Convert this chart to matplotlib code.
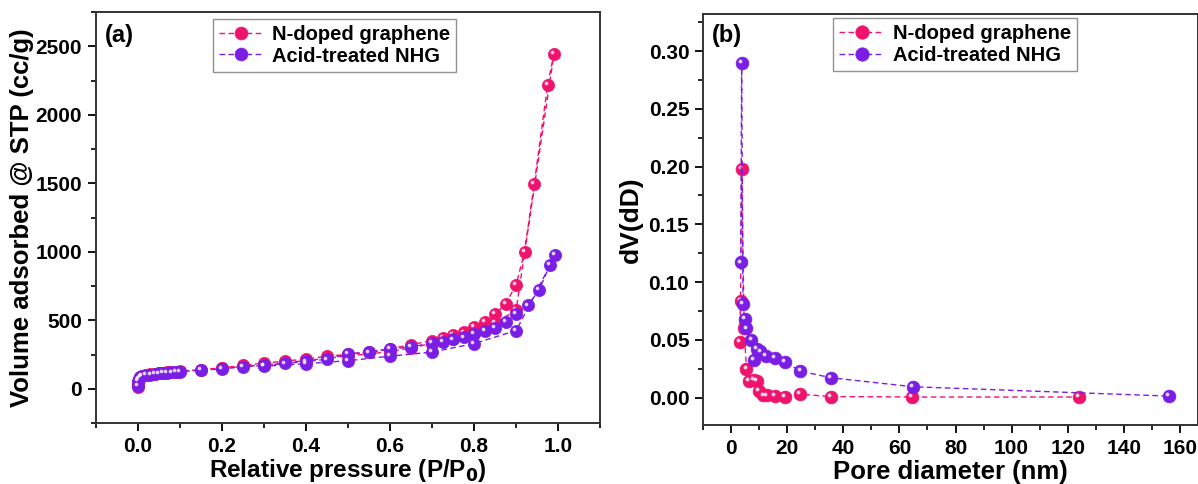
import numpy as np
import matplotlib
matplotlib.use("Agg")
from matplotlib import pyplot as plt
from matplotlib.ticker import MultipleLocator
from matplotlib.transforms import offset_copy

plt.rcParams['font.family'] = ['Liberation Sans', 'DejaVu Sans']
plt.rcParams['font.weight'] = 'bold'

pink = "#f0136e"
purple = "#7a1ee6"

# (a) isotherm, adsorption + desorption branches
ndg_p = [0.0, 0.001, 0.003, 0.006, 0.01, 0.02, 0.03, 0.04, 0.05, 0.06, 0.07, 0.08, 0.09, 0.1,
         0.15, 0.2, 0.25, 0.3, 0.35, 0.4, 0.45, 0.5, 0.55, 0.6, 0.65, 0.7, 0.725, 0.75,
         0.775, 0.8, 0.825, 0.85, 0.875, 0.9, 0.92, 0.943, 0.975, 0.99,
         0.9, 0.85, 0.8, 0.75, 0.7, 0.65, 0.6, 0.5, 0.4, 0.3, 0.2]
ndg_v = [10, 45, 70, 85, 95, 102, 107, 111, 115, 118, 120, 122, 125, 128,
         140, 152, 172, 187, 202, 217, 237, 252, 272, 292, 322, 352, 372, 392,
         412, 450, 490, 545, 620, 760, 1000, 1495, 2220, 2445,
         575, 480, 410, 362, 330, 300, 270, 240, 205, 175, 150]

nhg_p = [0.0, 0.001, 0.003, 0.006, 0.01, 0.02, 0.03, 0.04, 0.05, 0.06, 0.07, 0.08, 0.09, 0.1,
         0.15, 0.2, 0.25, 0.3, 0.35, 0.4, 0.45, 0.5, 0.55, 0.6, 0.65, 0.7, 0.725, 0.75,
         0.775, 0.8, 0.825, 0.85, 0.875, 0.9, 0.928, 0.955, 0.98, 0.993,
         0.9, 0.8, 0.7, 0.6, 0.5, 0.4, 0.3]
nhg_v = [20, 55, 75, 88, 95, 100, 104, 108, 112, 115, 118, 120, 122, 125,
         135, 145, 160, 170, 185, 200, 215, 255, 265, 290, 305, 335, 345, 360,
         375, 400, 420, 445, 487, 548, 608, 724, 902, 975,
         425, 330, 268, 238, 205, 183, 165]

# (b) pore size distribution
ndg_d = [3.0, 3.3, 3.7, 4.6, 5.4, 6.4, 8.1, 9.1, 10.0, 11.5, 12.8, 15.5, 19.0, 24.4, 35.5, 64.5, 124.0]
ndg_dv = [0.048, 0.084, 0.198, 0.060, 0.025, 0.0145, 0.0155, 0.0145, 0.0058, 0.002, 0.002,
          0.0014, 0.001, 0.003, 0.001, 0.0006, 0.0006]
nhg_d = [3.4, 3.7, 4.2, 5.0, 5.4, 7.2, 8.1, 9.1, 10.4, 12.5, 15.5, 19.1, 24.7, 35.5, 64.7, 156.0]
nhg_dv = [0.117, 0.290, 0.081, 0.068, 0.060, 0.050, 0.033, 0.042, 0.040, 0.036, 0.0345,
          0.031, 0.023, 0.0173, 0.0095, 0.0014]


def sphere_plot(ax, x, y, color, label, ms):
    ax.plot(x, y, linestyle=(0, (4, 2.5)), lw=1.0, color=color, marker='o', ms=ms,
            mfc=color, mec=color, mew=0.5, label=label)
    # little highlight to mimic the shaded balls
    tr = offset_copy(ax.transData, fig=ax.figure, x=-1.8, y=1.8, units='dots')
    ax.plot(x, y, linestyle='none', marker='o', ms=ms * 0.3, mfc='white', mec='none',
            alpha=0.8, transform=tr)


def style_axes(ax):
    for s in ax.spines.values():
        s.set_linewidth(1.4)
        s.set_color("#333333")
    ax.tick_params(which='major', direction='out', length=6, width=1.3, labelsize=15,
                   top=False, right=False, pad=4)
    ax.tick_params(which='minor', direction='out', length=3.5, width=1.2, top=False, right=False)
    for lab in ax.get_xticklabels() + ax.get_yticklabels():
        lab.set_fontweight('bold')


def make_legend(ax, anchor):
    leg = ax.legend(loc='upper left', bbox_to_anchor=anchor, fontsize=14.5,
                    frameon=True, fancybox=False, edgecolor='#777777', handlelength=2.2,
                    borderpad=0.3, labelspacing=0.12, handletextpad=0.45, borderaxespad=0,
                    markerscale=1.05)
    leg.get_frame().set_linewidth(1.0)
    for t in leg.get_texts():
        t.set_fontweight('bold')
    return leg


fig = plt.figure(figsize=(11.98, 4.84), dpi=100)
ax1 = fig.add_axes([0.080, 0.126, 0.421, 0.849])
ax2 = fig.add_axes([0.587, 0.121, 0.413, 0.850])

sphere_plot(ax1, ndg_p, ndg_v, pink, "N-doped graphene", 8.8)
sphere_plot(ax1, nhg_p, nhg_v, purple, "Acid-treated NHG", 8.8)
ax1.set_xlim(-0.1, 1.1)
ax1.set_ylim(-250, 2750)
ax1.xaxis.set_major_locator(MultipleLocator(0.2))
ax1.xaxis.set_minor_locator(MultipleLocator(0.1))
ax1.yaxis.set_major_locator(MultipleLocator(500))
ax1.yaxis.set_minor_locator(MultipleLocator(250))
ax1.set_xlabel("Relative pressure (P/P$_\\mathbf{0}$)", fontsize=17.5, fontweight='bold', labelpad=1)
ax1.set_ylabel("Volume adsorbed @ STP (cc/g)", fontsize=18.5, fontweight='bold', labelpad=1)
ax1.text(0.018, 0.97, "(a)", transform=ax1.transAxes, fontsize=17, fontweight='bold', va='top')
style_axes(ax1)
make_legend(ax1, (0.232, 0.983))

sphere_plot(ax2, ndg_d, ndg_dv, pink, "N-doped graphene", 9.2)
sphere_plot(ax2, nhg_d, nhg_dv, purple, "Acid-treated NHG", 9.2)
ax2.set_xlim(-10, 166.5)
ax2.set_ylim(-0.024, 0.332)
ax2.xaxis.set_major_locator(MultipleLocator(20))
ax2.xaxis.set_minor_locator(MultipleLocator(10))
ax2.yaxis.set_major_locator(MultipleLocator(0.05))
ax2.yaxis.set_minor_locator(MultipleLocator(0.025))
ax2.yaxis.set_major_formatter(matplotlib.ticker.FormatStrFormatter('%.2f'))
ax2.set_xlabel("Pore diameter (nm)", fontsize=18.5, fontweight='bold', labelpad=1)
ax2.set_ylabel("dV(dD)", fontsize=19, fontweight='bold', labelpad=4)
ax2.text(0.018, 0.975, "(b)", transform=ax2.transAxes, fontsize=17, fontweight='bold', va='top')
style_axes(ax2)
make_legend(ax2, (0.263, 0.99))

plt.savefig("out.png", dpi=100)
